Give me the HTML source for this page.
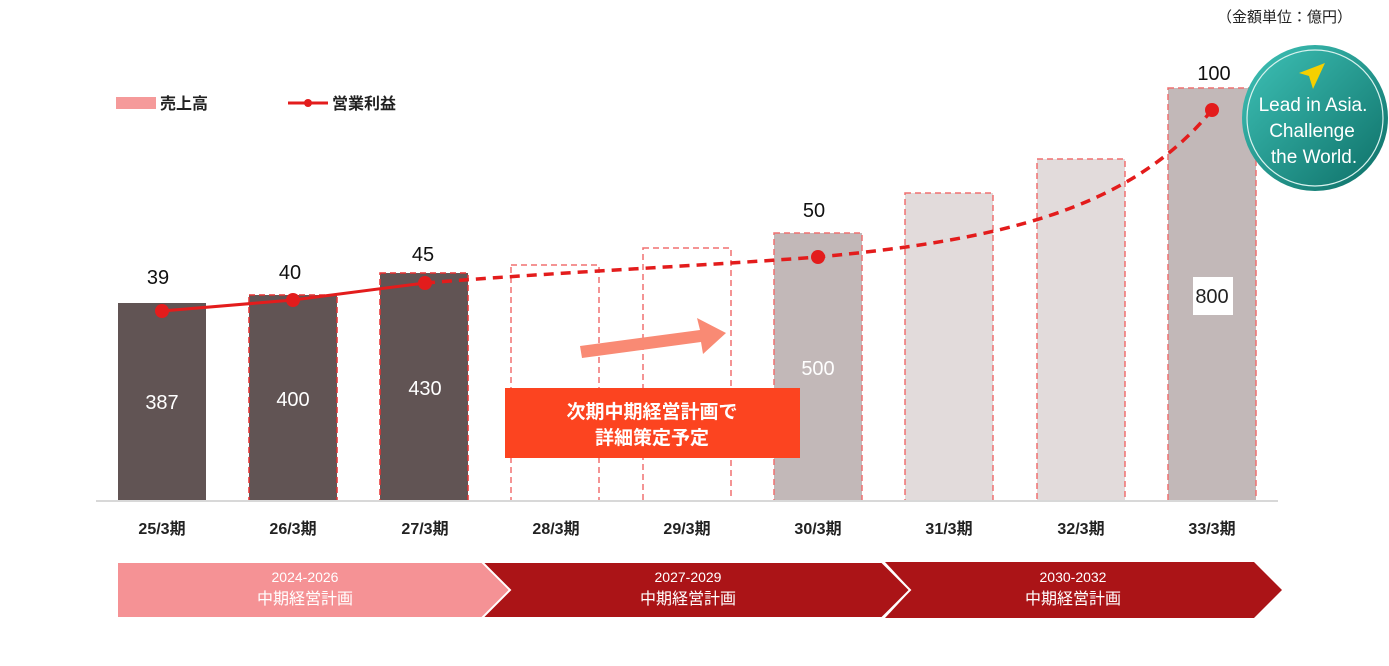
<!DOCTYPE html><html><head><meta charset="utf-8"><style>
body{margin:0;width:1389px;height:661px;background:#fff;overflow:hidden}
text{font-family:"Liberation Sans","Noto Sans CJK JP",sans-serif}
</style></head><body>
<svg width="1389" height="661" viewBox="0 0 1389 661" xmlns="http://www.w3.org/2000/svg">
<defs><linearGradient id="g" x1="0" y1="0" x2="1" y2="1"><stop offset="0" stop-color="#3fc3b8"/><stop offset="1" stop-color="#0d6e66"/></linearGradient></defs>
<text x="1352" y="22" font-size="15" text-anchor="end" fill="#222">（金額単位：億円）</text>
<rect x="116" y="97" width="40" height="12" fill="#f59a9a"/>
<text x="160" y="109" font-size="16" font-weight="bold" fill="#222">売上高</text>
<line x1="288" y1="103" x2="328" y2="103" stroke="#e31c1c" stroke-width="3"/><circle cx="308" cy="103" r="4" fill="#e31c1c"/>
<text x="332" y="109" font-size="16" font-weight="bold" fill="#222">営業利益</text>
<g stroke="#f07070" stroke-width="1.5" stroke-dasharray="6,4">
<rect x="118" y="303" width="88" height="198" fill="#615454" stroke="none"/>
<rect x="249" y="295" width="88" height="206" fill="#615454" stroke="#e83030"/>
<rect x="380" y="273" width="88" height="228" fill="#615454" stroke="#e83030"/>
<rect x="511" y="265" width="88" height="236" fill="none"/>
<rect x="643" y="248" width="88" height="253" fill="none"/>
<rect x="774" y="233" width="88" height="268" fill="#c2b8b8"/>
<rect x="905" y="193" width="88" height="308" fill="#e2dbdb"/>
<rect x="1037" y="159" width="88" height="342" fill="#e2dbdb"/>
<rect x="1168" y="88" width="88" height="413" fill="#c2b8b8"/>
</g>
<line x1="96" y1="501" x2="1278" y2="501" stroke="#d8d8d8" stroke-width="2"/>
<g font-size="20" fill="#fff" text-anchor="middle">
<text x="162" y="409">387</text><text x="293" y="406">400</text><text x="425" y="395">430</text><text x="818" y="375">500</text>
</g>
<rect x="1193" y="277" width="40" height="38" fill="#fff"/>
<text x="1212" y="303" font-size="20" text-anchor="middle" fill="#222">800</text>
<g font-size="20" text-anchor="middle" fill="#111">
<text x="158" y="284">39</text><text x="290" y="279">40</text><text x="423" y="261">45</text><text x="814" y="217">50</text><text x="1214" y="80">100</text>
</g>
<polyline points="162,311 293,300 425,283" fill="none" stroke="#e31c1c" stroke-width="3"/>
<path d="M425,283 C560,272 700,266 818,257 C1000,240 1130,210 1212,110" fill="none" stroke="#e31c1c" stroke-width="3.5" stroke-dasharray="10,7"/>
<g fill="#e31c1c"><circle cx="162" cy="311" r="7"/><circle cx="293" cy="300" r="7"/><circle cx="425" cy="283" r="7"/><circle cx="818" cy="257" r="7"/><circle cx="1212" cy="110" r="7"/></g>
<polygon points="580,346 700,330 697,318 726,333 703,354 701,342 582,358" fill="#f98a74"/>
<rect x="505" y="388" width="295" height="70" fill="#fc4420"/>
<text x="652" y="418" font-size="19" font-weight="bold" fill="#fff" text-anchor="middle">次期中期経営計画で</text>
<text x="652" y="444" font-size="19" font-weight="bold" fill="#fff" text-anchor="middle">詳細策定予定</text>
<g font-size="16" font-weight="bold" fill="#222" text-anchor="middle">
<text x="162" y="534">25/3期</text><text x="293" y="534">26/3期</text><text x="425" y="534">27/3期</text><text x="556" y="534">28/3期</text><text x="687" y="534">29/3期</text><text x="818" y="534">30/3期</text><text x="949" y="534">31/3期</text><text x="1081" y="534">32/3期</text><text x="1212" y="534">33/3期</text>
</g>
<polygon points="885,562 1254,562 1282,590 1254,618 885,618 911,590" fill="#ab1417"/>
<polygon points="482,562 882,562 910,590 882,618 482,618 508,590" fill="#ab1417" stroke="#fff" stroke-width="2"/>
<polygon points="117,562 482,562 510,590 482,618 117,618" fill="#f59295" stroke="#fff" stroke-width="2"/>
<g font-size="14" fill="#fff" text-anchor="middle">
<text x="305" y="582">2024-2026</text><text x="305" y="604" font-size="16">中期経営計画</text>
<text x="688" y="582">2027-2029</text><text x="688" y="604" font-size="16">中期経営計画</text>
<text x="1073" y="582">2030-2032</text><text x="1073" y="604" font-size="16">中期経営計画</text>
</g>
<circle cx="1315" cy="118" r="73" fill="url(#g)"/>
<circle cx="1315" cy="118" r="68" fill="none" stroke="#d8f2ee" stroke-width="1.2"/>
<polygon points="1325,63 1299,73 1309,76 1313,89" fill="#f5d000"/>
<g font-size="19" fill="#fff" text-anchor="middle">
<text x="1313" y="111">Lead in Asia.</text><text x="1312" y="137">Challenge</text><text x="1314" y="163">the World.</text>
</g>
</svg>
</body></html>
